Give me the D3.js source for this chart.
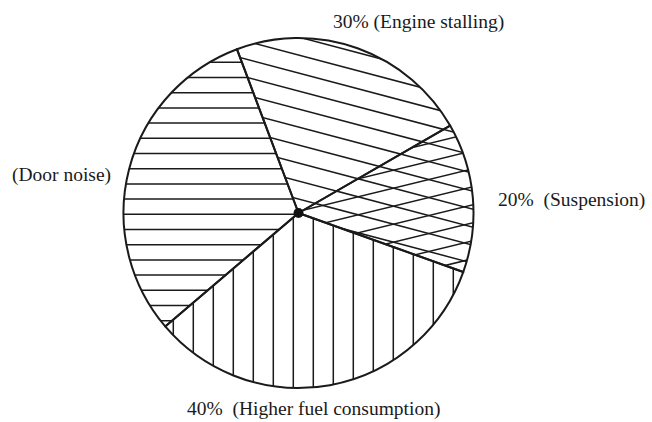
<!DOCTYPE html>
<html>
<head>
<meta charset="utf-8">
<script src="https://cdn.jsdelivr.net/npm/d3@7/dist/d3.min.js"></script>
<style>
  html, body { margin: 0; padding: 0; background: #ffffff; }
  svg { display: block; }
  text { font-family: "Liberation Serif", "Times New Roman", serif; fill: #1a1a1a; white-space: pre; }
</style>
</head>
<body>
<svg id="chart" width="652" height="422"></svg>
<script>
// ---- data ----
const categories = ["Engine stalling", "Suspension", "Higher fuel consumption", "Door noise"];
const printedPercents = ["30%", "20%", "40%", ""];          // percentages as printed on the chart
const sliceValues = [22.4, 13.8, 33.3, 30.5];              // slice sizes as drawn (angles measured)
const hatchKinds = [["back"], ["back", "fwd"], ["vert"], ["horiz"]];

// ---- layout ----
const W = 652, H = 422;
const cx = 298.5, cy = 213, R = 175;
const startDeg = -20.6;

const svg = d3.select("#chart");
const g = svg.append("g").attr("transform", `translate(${cx},${cy})`);

const pie = d3.pie().sort(null).value(d => d.v)
  .startAngle(startDeg * Math.PI / 180)
  .endAngle(startDeg * Math.PI / 180 + 2 * Math.PI);
const arc = d3.arc().innerRadius(0).outerRadius(R);

const rows = categories.map((c, i) => ({ c, v: sliceValues[i], p: printedPercents[i], h: hatchKinds[i] }));
const arcs = pie(rows);

// hatch families: y = slope*x + off + k*sp  (relative to centre), or vertical x = off + k*sp
const families = {
  back:  { slope: 0.265, sp: 18, off: 4 },
  fwd:   { slope: -0.245, sp: 18, off: -1.6 },
  horiz: { slope: 0, sp: 15.2, off: 1.3 },
  vert:  { vertical: true, sp: 20, off: -5.2 }
};

function familyLines(f) {
  const out = [];
  const L = R + 20;
  const n = Math.ceil((R * 2) / f.sp) + 4;
  for (let k = -n; k <= n; k++) {
    const o = f.off + k * f.sp;
    if (f.vertical) {
      out.push([[o, -L], [o, L]]);
    } else {
      out.push([[-L, f.slope * -L + o], [L, f.slope * L + o]]);
    }
  }
  return out;
}

const defs = svg.append("defs");
arcs.forEach((a, i) => {
  defs.append("clipPath").attr("id", "clip" + i)
    .append("path").attr("d", arc(a));
});

arcs.forEach((a, i) => {
  const hg = g.append("g").attr("clip-path", `url(#clip${i})`);
  a.data.h.forEach(kind => {
    hg.selectAll(null).data(familyLines(families[kind])).enter()
      .append("line")
      .attr("x1", d => d[0][0]).attr("y1", d => d[0][1])
      .attr("x2", d => d[1][0]).attr("y2", d => d[1][1])
      .attr("stroke", "#1a1a1a").attr("stroke-width", 1.5);
  });
});

// slice outlines (radii + circle)
g.selectAll("path.slice").data(arcs).enter().append("path")
  .attr("class", "slice")
  .attr("d", arc)
  .attr("fill", "none")
  .attr("stroke", "#1a1a1a")
  .attr("stroke-width", 2)
  .attr("stroke-linejoin", "round");

// centre dot
g.append("circle").attr("r", 5).attr("fill", "#111");

// labels (hand-placed as in the reference)
const labelLayout = [
  { x: 333, y: 28, gap: " " },
  { x: 498, y: 206, gap: "  " },
  { x: 187, y: 415, gap: "  " },
  { x: 12, y: 181, gap: "" }
];
svg.selectAll("text.lab").data(arcs).enter().append("text")
  .attr("class", "lab")
  .attr("x", (d, i) => labelLayout[i].x)
  .attr("y", (d, i) => labelLayout[i].y)
  .attr("font-size", 19.5)
  .text((d, i) => (d.data.p ? d.data.p + labelLayout[i].gap : "") + "(" + d.data.c + ")");
</script>
</body>
</html>
